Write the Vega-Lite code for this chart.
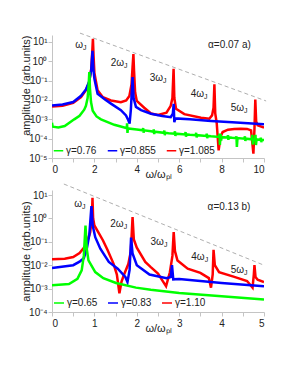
{
  "$schema": "https://vega.github.io/schema/vega-lite/v6.json",
  "background": "white",
  "padding": {"left": 19, "top": 31, "right": 5, "bottom": 5},
  "bounds": "flush",
  "spacing": 32,
  "config": {
    "font": "Liberation Sans",
    "view": {"stroke": null},
    "axis": {"grid": false, "domainColor": "#c4c4c4", "tickColor": "#c4c4c4", "tickSize": 4, "labelColor": "#222", "labelFontSize": 10, "labelFont": "Liberation Sans", "titleFont": "Liberation Sans", "titleFontWeight": "normal", "titleFontSize": 11, "titleColor": "#222"},
    "legend": {"labelFont": "Liberation Sans", "labelColor": "#222"},
    "text": {"font": "Liberation Sans", "color": "#222"}
  },
  "datasets": {
    "curvesA": [
      {"g":"γ=1.085","w":0,"amp":4.6e-3},{"g":"γ=1.085","w":0.5,"amp":5.1e-3},{"g":"γ=1.085","w":1.0,"amp":7.2e-3},{"g":"γ=1.085","w":1.37,"amp":1.4e-2},{"g":"γ=1.085","w":1.6,"amp":3.2e-2},{"g":"γ=1.085","w":1.75,"amp":7.9e-2},{"g":"γ=1.085","w":1.85,"amp":0.4},{"g":"γ=1.085","w":1.9,"amp":3.2},{"g":"γ=1.085","w":1.93,"amp":14.8},{"g":"γ=1.085","w":1.96,"amp":2.0},{"g":"γ=1.085","w":2.0,"amp":0.25},{"g":"γ=1.085","w":2.15,"amp":3.2e-2},{"g":"γ=1.085","w":2.4,"amp":1.4e-2},{"g":"γ=1.085","w":2.78,"amp":9.5e-3},{"g":"γ=1.085","w":3.25,"amp":7.6e-3},{"g":"γ=1.085","w":3.5,"amp":9.5e-3},{"g":"γ=1.085","w":3.65,"amp":1.6e-2},{"g":"γ=1.085","w":3.75,"amp":6.3e-2},{"g":"γ=1.085","w":3.8,"amp":0.5},{"g":"γ=1.085","w":3.84,"amp":2.4},{"g":"γ=1.085","w":3.87,"amp":0.32},{"g":"γ=1.085","w":3.92,"amp":2.5e-2},{"g":"γ=1.085","w":4.0,"amp":8.9e-3},{"g":"γ=1.085","w":4.35,"amp":4.0e-3},{"g":"γ=1.085","w":4.67,"amp":2.0e-3},{"g":"γ=1.085","w":5.0,"amp":1.66e-3},{"g":"γ=1.085","w":5.4,"amp":2.2e-3},{"g":"γ=1.085","w":5.6,"amp":5.0e-3},{"g":"γ=1.085","w":5.68,"amp":1.26e-2},{"g":"γ=1.085","w":5.735,"amp":0.41},{"g":"γ=1.085","w":5.77,"amp":1.26e-2},{"g":"γ=1.085","w":5.85,"amp":3.5e-3},{"g":"γ=1.085","w":6.24,"amp":1.86e-3},{"g":"γ=1.085","w":7.03,"amp":1.2e-3},{"g":"γ=1.085","w":7.42,"amp":1.07e-3},{"g":"γ=1.085","w":7.55,"amp":1.6e-3},{"g":"γ=1.085","w":7.62,"amp":4.0e-3},{"g":"γ=1.085","w":7.66,"amp":6.5e-2},{"g":"γ=1.085","w":7.7,"amp":2.0e-3},{"g":"γ=1.085","w":7.77,"amp":6.3e-4},{"g":"γ=1.085","w":7.86,"amp":2.5e-5},{"g":"γ=1.085","w":7.95,"amp":1.26e-4},{"g":"γ=1.085","w":8.05,"amp":2.2e-4},{"g":"γ=1.085","w":8.3,"amp":2.9e-4},{"g":"γ=1.085","w":8.6,"amp":3.2e-4},{"g":"γ=1.085","w":8.9,"amp":3.3e-4},{"g":"γ=1.085","w":9.2,"amp":3.2e-4},{"g":"γ=1.085","w":9.39,"amp":2.7e-4},{"g":"γ=1.085","w":9.5,"amp":1.66e-5},{"g":"γ=1.085","w":9.55,"amp":3.2e-4},{"g":"γ=1.085","w":9.59,"amp":1.05e-2},{"g":"γ=1.085","w":9.63,"amp":7.9e-4},{"g":"γ=1.085","w":9.7,"amp":4.9e-4},{"g":"γ=1.085","w":10,"amp":3.7e-4},
      {"g":"γ=0.855","w":0,"amp":5.2e-3},{"g":"γ=0.855","w":0.5,"amp":5.8e-3},{"g":"γ=0.855","w":1.0,"amp":7.9e-3},{"g":"γ=0.855","w":1.37,"amp":1.66e-2},{"g":"γ=0.855","w":1.6,"amp":3.5e-2},{"g":"γ=0.855","w":1.75,"amp":8.9e-2},{"g":"γ=0.855","w":1.85,"amp":0.35},{"g":"γ=0.855","w":1.91,"amp":3.5},{"g":"γ=0.855","w":1.95,"amp":0.4},{"g":"γ=0.855","w":2.0,"amp":0.126},{"g":"γ=0.855","w":2.15,"amp":2.1e-2},{"g":"γ=0.855","w":2.5,"amp":1.05e-2},{"g":"γ=0.855","w":2.78,"amp":6.5e-3},{"g":"γ=0.855","w":3.25,"amp":3.0e-3},{"g":"γ=0.855","w":3.49,"amp":1.6e-3},{"g":"γ=0.855","w":3.6,"amp":8.9e-4},{"g":"γ=0.855","w":3.66,"amp":6.0e-4},{"g":"γ=0.855","w":3.72,"amp":3.2e-3},{"g":"γ=0.855","w":3.8,"amp":0.155},{"g":"γ=0.855","w":3.85,"amp":1.26e-2},{"g":"γ=0.855","w":3.96,"amp":4.4e-3},{"g":"γ=0.855","w":4.2,"amp":3.0e-3},{"g":"γ=0.855","w":4.67,"amp":1.95e-3},{"g":"γ=0.855","w":5.2,"amp":1.5e-3},{"g":"γ=0.855","w":5.6,"amp":1.3e-3},{"g":"γ=0.855","w":5.7,"amp":2.0e-3},{"g":"γ=0.855","w":5.74,"amp":6.3e-3},{"g":"γ=0.855","w":5.77,"amp":7.2e-4},{"g":"γ=0.855","w":5.82,"amp":1.12e-3},{"g":"γ=0.855","w":6.5,"amp":1.0e-3},{"g":"γ=0.855","w":7.5,"amp":8.3e-4},{"g":"γ=0.855","w":8.5,"amp":7.1e-4},{"g":"γ=0.855","w":10,"amp":5.6e-4},
      {"g":"γ=0.76","w":0,"amp":6.6e-4},{"g":"γ=0.76","w":0.03,"amp":4.2e-4},{"g":"γ=0.76","w":0.3,"amp":3.8e-4},{"g":"γ=0.76","w":0.6,"amp":4.5e-4},{"g":"γ=0.76","w":1.05,"amp":1.0e-3},{"g":"γ=0.76","w":1.3,"amp":1.51e-3},{"g":"γ=0.76","w":1.52,"amp":3.16e-3},{"g":"γ=0.76","w":1.6,"amp":5.0e-3},{"g":"γ=0.76","w":1.68,"amp":1.26e-2},{"g":"γ=0.76","w":1.73,"amp":6.3e-2},{"g":"γ=0.76","w":1.76,"amp":0.28},{"g":"γ=0.76","w":1.79,"amp":4.0e-2},{"g":"γ=0.76","w":1.84,"amp":7.9e-3},{"g":"γ=0.76","w":1.92,"amp":2.8e-3},{"g":"γ=0.76","w":2.1,"amp":1.41e-3},{"g":"γ=0.76","w":2.31,"amp":1.0e-3},{"g":"γ=0.76","w":2.94,"amp":5.2e-4},{"g":"γ=0.76","w":3.5,"amp":3.55e-4},{"g":"γ=0.76","w":3.53,"amp":3.5e-4},{"g":"γ=0.76","w":3.54,"amp":6.3e-4},{"g":"γ=0.76","w":3.56,"amp":2.0e-4},{"g":"γ=0.76","w":3.58,"amp":3.4e-4},{"g":"γ=0.76","w":4.0,"amp":3.0e-4},
      {"g":"γ=0.76","w":4.28,"amp":2.69e-4},{"g":"γ=0.76","w":4.3,"amp":3.55e-4},{"g":"γ=0.76","w":4.32,"amp":2.04e-4},{"g":"γ=0.76","w":4.34,"amp":2.69e-4},{"g":"γ=0.76","w":4.67,"amp":2.4e-4},
      {"g":"γ=0.76","w":4.78,"amp":2.29e-4},{"g":"γ=0.76","w":4.8,"amp":3.02e-4},{"g":"γ=0.76","w":4.82,"amp":1.74e-4},{"g":"γ=0.76","w":4.84,"amp":2.29e-4},
      {"g":"γ=0.76","w":5.28,"amp":2.0e-4},{"g":"γ=0.76","w":5.3,"amp":2.63e-4},{"g":"γ=0.76","w":5.32,"amp":1.51e-4},{"g":"γ=0.76","w":5.34,"amp":2.0e-4},{"g":"γ=0.76","w":5.5,"amp":1.9e-4},
      {"g":"γ=0.76","w":5.78,"amp":1.82e-4},{"g":"γ=0.76","w":5.8,"amp":2.4e-4},{"g":"γ=0.76","w":5.82,"amp":1.38e-4},{"g":"γ=0.76","w":5.84,"amp":1.82e-4},
      {"g":"γ=0.76","w":6.28,"amp":1.66e-4},{"g":"γ=0.76","w":6.3,"amp":2.19e-4},{"g":"γ=0.76","w":6.32,"amp":1.26e-4},{"g":"γ=0.76","w":6.34,"amp":1.66e-4},{"g":"γ=0.76","w":6.5,"amp":1.58e-4},
      {"g":"γ=0.76","w":6.78,"amp":1.51e-4},{"g":"γ=0.76","w":6.8,"amp":2.0e-4},{"g":"γ=0.76","w":6.82,"amp":1.15e-4},{"g":"γ=0.76","w":6.84,"amp":1.51e-4},
      {"g":"γ=0.76","w":7.28,"amp":1.38e-4},{"g":"γ=0.76","w":7.3,"amp":1.82e-4},{"g":"γ=0.76","w":7.32,"amp":1.05e-4},{"g":"γ=0.76","w":7.34,"amp":1.38e-4},{"g":"γ=0.76","w":7.5,"amp":1.32e-4},
      {"g":"γ=0.76","w":7.88,"amp":1.23e-4},{"g":"γ=0.76","w":7.9,"amp":1.82e-4},{"g":"γ=0.76","w":7.92,"amp":4.7e-5},{"g":"γ=0.76","w":7.95,"amp":1.7e-4},{"g":"γ=0.76","w":7.98,"amp":8.0e-5},{"g":"γ=0.76","w":8.0,"amp":1.2e-4},
      {"g":"γ=0.76","w":8.28,"amp":1.15e-4},{"g":"γ=0.76","w":8.3,"amp":1.51e-4},{"g":"γ=0.76","w":8.32,"amp":8.7e-5},{"g":"γ=0.76","w":8.34,"amp":1.15e-4},{"g":"γ=0.76","w":8.5,"amp":1.1e-4},
      {"g":"γ=0.76","w":8.68,"amp":1.07e-4},{"g":"γ=0.76","w":8.7,"amp":1.32e-4},{"g":"γ=0.76","w":8.72,"amp":3.7e-5},{"g":"γ=0.76","w":8.75,"amp":1.07e-4},
      {"g":"γ=0.76","w":9.08,"amp":1.0e-4},{"g":"γ=0.76","w":9.1,"amp":1.32e-4},{"g":"γ=0.76","w":9.12,"amp":7.6e-5},{"g":"γ=0.76","w":9.14,"amp":1.0e-4},
      {"g":"γ=0.76","w":9.43,"amp":9.3e-5},{"g":"γ=0.76","w":9.45,"amp":1.58e-4},{"g":"γ=0.76","w":9.47,"amp":5.0e-5},{"g":"γ=0.76","w":9.5,"amp":9.3e-5},
      {"g":"γ=0.76","w":9.58,"amp":9.1e-5},{"g":"γ=0.76","w":9.6,"amp":1.58e-4},{"g":"γ=0.76","w":9.62,"amp":4.7e-5},{"g":"γ=0.76","w":9.65,"amp":9.1e-5},
      {"g":"γ=0.76","w":9.83,"amp":8.7e-5},{"g":"γ=0.76","w":9.85,"amp":1.12e-4},{"g":"γ=0.76","w":9.87,"amp":6.6e-5},{"g":"γ=0.76","w":9.89,"amp":8.7e-5},{"g":"γ=0.76","w":10,"amp":8.5e-5}
    ],
    "curvesB": [
      {"g":"γ=1.10","w":0,"amp":1.78e-2},{"g":"γ=1.10","w":0.3,"amp":1.9e-2},{"g":"γ=1.10","w":0.5,"amp":2.24e-2},{"g":"γ=1.10","w":0.65,"amp":3.3e-2},{"g":"γ=1.10","w":0.8,"amp":7.1e-2},{"g":"γ=1.10","w":0.9,"amp":0.25},{"g":"γ=1.10","w":0.94,"amp":1.0},{"g":"γ=1.10","w":0.955,"amp":7.6},{"g":"γ=1.10","w":0.97,"amp":1.0},{"g":"γ=1.10","w":1.0,"amp":0.5},{"g":"γ=1.10","w":1.08,"amp":0.28},{"g":"γ=1.10","w":1.2,"amp":0.117},{"g":"γ=1.10","w":1.31,"amp":4.47e-2},{"g":"γ=1.10","w":1.45,"amp":1.17e-2},{"g":"γ=1.10","w":1.53,"amp":3.98e-3},{"g":"γ=1.10","w":1.59,"amp":6.3e-4},{"g":"γ=1.10","w":1.64,"amp":2.0e-3},{"g":"γ=1.10","w":1.7,"amp":3.98e-3},{"g":"γ=1.10","w":1.8,"amp":1.12e-2},{"g":"γ=1.10","w":1.86,"amp":3.98e-2},{"g":"γ=1.10","w":1.9,"amp":1.15},{"g":"γ=1.10","w":1.93,"amp":0.126},{"g":"γ=1.10","w":2.0,"amp":5.6e-2},{"g":"γ=1.10","w":2.2,"amp":1.38e-2},{"g":"γ=1.10","w":2.33,"amp":8.3e-3},{"g":"γ=1.10","w":2.5,"amp":4.4e-3},{"g":"γ=1.10","w":2.62,"amp":2.0e-3},{"g":"γ=1.10","w":2.69,"amp":1.26e-3},{"g":"γ=1.10","w":2.78,"amp":5.0e-3},{"g":"γ=1.10","w":2.84,"amp":2.5e-2},{"g":"γ=1.10","w":2.87,"amp":0.26},{"g":"γ=1.10","w":2.9,"amp":3.98e-2},{"g":"γ=1.10","w":2.96,"amp":1.58e-2},{"g":"γ=1.10","w":3.2,"amp":7.1e-3},{"g":"γ=1.10","w":3.5,"amp":4.7e-3},{"g":"γ=1.10","w":3.7,"amp":2.8e-3},{"g":"γ=1.10","w":3.75,"amp":1.1e-3},{"g":"γ=1.10","w":3.79,"amp":4.0e-3},{"g":"γ=1.10","w":3.81,"amp":4.57e-2},{"g":"γ=1.10","w":3.84,"amp":1.0e-2},{"g":"γ=1.10","w":3.94,"amp":5.0e-3},{"g":"γ=1.10","w":4.3,"amp":3.16e-3},{"g":"γ=1.10","w":4.6,"amp":2.1e-3},{"g":"γ=1.10","w":4.73,"amp":1.1e-3},{"g":"γ=1.10","w":4.76,"amp":4.0e-3},{"g":"γ=1.10","w":4.775,"amp":1.02e-2},{"g":"γ=1.10","w":4.8,"amp":3.16e-3},{"g":"γ=1.10","w":4.85,"amp":2.4e-3},{"g":"γ=1.10","w":5.0,"amp":1.9e-3},
      {"g":"γ=0.83","w":0,"amp":7.6e-3},{"g":"γ=0.83","w":0.5,"amp":1.0e-2},{"g":"γ=0.83","w":0.65,"amp":1.41e-2},{"g":"γ=0.83","w":0.75,"amp":2.0e-2},{"g":"γ=0.83","w":0.82,"amp":5.0e-2},{"g":"γ=0.83","w":0.88,"amp":0.2},{"g":"γ=0.83","w":0.93,"amp":3.4},{"g":"γ=0.83","w":0.96,"amp":0.5},{"g":"γ=0.83","w":1.02,"amp":0.158},{"g":"γ=0.83","w":1.14,"amp":5.1e-2},{"g":"γ=0.83","w":1.34,"amp":1.38e-2},{"g":"γ=0.83","w":1.55,"amp":7.1e-3},{"g":"γ=0.83","w":1.73,"amp":3.16e-3},{"g":"γ=0.83","w":1.78,"amp":1.9e-3},{"g":"γ=0.83","w":1.83,"amp":6.3e-3},{"g":"γ=0.83","w":1.865,"amp":0.151},{"g":"γ=0.83","w":1.9,"amp":3.16e-2},{"g":"γ=0.83","w":2.0,"amp":1.0e-2},{"g":"γ=0.83","w":2.3,"amp":4.0e-3},{"g":"γ=0.83","w":2.7,"amp":2.8e-3},{"g":"γ=0.83","w":2.8,"amp":3.16e-3},{"g":"γ=0.83","w":2.83,"amp":1.0e-2},{"g":"γ=0.83","w":2.86,"amp":2.5e-3},{"g":"γ=0.83","w":3.0,"amp":2.6e-3},{"g":"γ=0.83","w":4.0,"amp":1.74e-3},{"g":"γ=0.83","w":5.0,"amp":1.26e-3},
      {"g":"γ=0.65","w":0,"amp":1.38e-3},{"g":"γ=0.65","w":0.4,"amp":1.58e-3},{"g":"γ=0.65","w":0.6,"amp":2.6e-3},{"g":"γ=0.65","w":0.7,"amp":6.0e-3},{"g":"γ=0.65","w":0.75,"amp":2.5e-2},{"g":"γ=0.65","w":0.79,"amp":0.5},{"g":"γ=0.65","w":0.82,"amp":5.0e-2},{"g":"γ=0.65","w":0.86,"amp":1.62e-2},{"g":"γ=0.65","w":1.02,"amp":5.1e-3},{"g":"γ=0.65","w":1.21,"amp":2.8e-3},{"g":"γ=0.65","w":1.51,"amp":1.74e-3},{"g":"γ=0.65","w":1.98,"amp":1.1e-3},{"g":"γ=0.65","w":2.33,"amp":8.9e-4},{"g":"γ=0.65","w":3.0,"amp":6.5e-4},{"g":"γ=0.65","w":4.0,"amp":4.7e-4},{"g":"γ=0.65","w":5.0,"amp":3.4e-4}
    ],
    "dashA": [{"w":1.32,"amp":28.8},{"w":10.1,"amp":8.9e-3}],
    "dashB": [{"w":0.28,"amp":29.5},{"w":5.0,"amp":1.0e-2}],
    "labA": [
      {"w":1.46,"amp":7.0,"main":"ω","sub":"J"},
      {"w":3.40,"amp":0.81,"main":"2ω","sub":"J"},
      {"w":5.24,"amp":0.138,"main":"3ω","sub":"J"},
      {"w":7.17,"amp":0.0214,"main":"4ω","sub":"J"},
      {"w":9.06,"amp":0.0039,"main":"5ω","sub":"J"}
    ],
    "labB": [
      {"w":0.71,"amp":3.98,"main":"ω","sub":"J"},
      {"w":1.69,"amp":0.59,"main":"2ω","sub":"J"},
      {"w":2.64,"amp":0.098,"main":"3ω","sub":"J"},
      {"w":3.60,"amp":0.0224,"main":"4ω","sub":"J"},
      {"w":4.53,"amp":0.0065,"main":"5ω","sub":"J"}
    ],
    "alphaA": [{"w":7.36,"amp":6.8,"t":"α=0.07  a)"}],
    "alphaB": [{"w":3.67,"amp":3.1,"t":"α=0.13   b)"}]
  },
  "vconcat": [
    {
      "width": 212, "height": 123,
      "encoding": {
        "x": {"field": "w", "type": "quantitative", "scale": {"domain": [0, 10], "nice": false, "zero": false},
              "axis": {"values": [0,1,2,3,4,5,6,7,8,9,10], "labelExpr": "datum.value % 2 == 0 ? datum.label : ''", "labelPadding": 2, "title": "ω/ωₚₗ", "titlePadding": -6}},
        "y": {"field": "amp", "type": "quantitative", "scale": {"type": "log", "domain": [1e-5, 23], "nice": false},
              "axis": {"values": [1e-5,1e-4,1e-3,1e-2,1e-1,1,10], "labelExpr": "datum.value > 5 ? '10¹' : datum.value > 0.5 ? '10⁰' : datum.value > 0.05 ? '10⁻¹' : datum.value > 0.005 ? '10⁻²' : datum.value > 0.0005 ? '10⁻³' : datum.value > 0.00005 ? '10⁻⁴' : '10⁻⁵'", "labelPadding": 1, "title": "amplitude (arb.units)", "titleAnchor": "end", "titleX": -21}}
      },
      "layer": [
        {"data": {"name": "dashA"}, "mark": {"type": "line", "strokeDash": [4, 3], "color": "#999", "strokeWidth": 0.8, "clip": false}},
        {"data": {"name": "curvesA"}, "mark": {"type": "line", "strokeWidth": 2.5, "clip": true},
         "encoding": {"color": {"field": "g", "type": "nominal", "scale": {"domain": ["γ=0.76", "γ=0.855", "γ=1.085"], "range": ["#00ff00", "#0000ff", "#ff0000"]},
           "legend": {"orient": "none", "legendX": 1, "legendY": 110, "direction": "horizontal", "title": null, "symbolType": "stroke", "symbolSize": 90, "symbolStrokeWidth": 1.5, "labelFontSize": 10, "columnPadding": 7, "labelOffset": 2, "padding": 0}}}},
        {"data": {"name": "labA"}, "mark": {"type": "text", "align": "right", "baseline": "middle", "fontSize": 10}, "encoding": {"text": {"field": "main"}}},
        {"data": {"name": "labA"}, "mark": {"type": "text", "align": "left", "baseline": "middle", "fontSize": 7, "dy": 3}, "encoding": {"text": {"field": "sub"}}},
        {"data": {"name": "alphaA"}, "mark": {"type": "text", "align": "left", "baseline": "middle", "fontSize": 10}, "encoding": {"text": {"field": "t"}}}
      ]
    },
    {
      "width": 212, "height": 122,
      "encoding": {
        "x": {"field": "w", "type": "quantitative", "scale": {"domain": [0, 5], "nice": false, "zero": false},
              "axis": {"values": [0,0.5,1,1.5,2,2.5,3,3.5,4,4.5,5], "labelExpr": "datum.value % 1 == 0 ? format(datum.value, 'd') : ''", "labelPadding": 2, "title": "ω/ωₚₗ", "titlePadding": -6}},
        "y": {"field": "amp", "type": "quantitative", "scale": {"type": "log", "domain": [1e-4, 16.4], "nice": false},
              "axis": {"values": [1e-4,1e-3,1e-2,1e-1,1,10], "labelExpr": "datum.value > 5 ? '10¹' : datum.value > 0.5 ? '10⁰' : datum.value > 0.05 ? '10⁻¹' : datum.value > 0.005 ? '10⁻²' : datum.value > 0.0005 ? '10⁻³' : datum.value > 0.00005 ? '10⁻⁴' : '10⁻⁵'", "labelPadding": 1, "title": "amplitude (arb.units)", "titleX": -21}}
      },
      "layer": [
        {"data": {"name": "dashB"}, "mark": {"type": "line", "strokeDash": [4, 3], "color": "#999", "strokeWidth": 0.8, "clip": false}},
        {"data": {"name": "curvesB"}, "mark": {"type": "line", "strokeWidth": 2.5, "clip": true},
         "encoding": {"color": {"field": "g", "type": "nominal", "scale": {"domain": ["γ=0.65", "γ=0.83", "γ=1.10"], "range": ["#00ff00", "#0000ff", "#ff0000"]},
           "legend": {"orient": "none", "legendX": 1, "legendY": 107, "direction": "horizontal", "title": null, "symbolType": "stroke", "symbolSize": 100, "symbolStrokeWidth": 1.5, "labelFontSize": 10, "columnPadding": 7, "labelOffset": 2, "padding": 0}}}},
        {"data": {"name": "labB"}, "mark": {"type": "text", "align": "right", "baseline": "middle", "fontSize": 10}, "encoding": {"text": {"field": "main"}}},
        {"data": {"name": "labB"}, "mark": {"type": "text", "align": "left", "baseline": "middle", "fontSize": 7, "dy": 3}, "encoding": {"text": {"field": "sub"}}},
        {"data": {"name": "alphaB"}, "mark": {"type": "text", "align": "left", "baseline": "middle", "fontSize": 10}, "encoding": {"text": {"field": "t"}}}
      ]
    }
  ],
  "resolve": {"scale": {"color": "independent"}, "legend": {"color": "independent"}}
}
